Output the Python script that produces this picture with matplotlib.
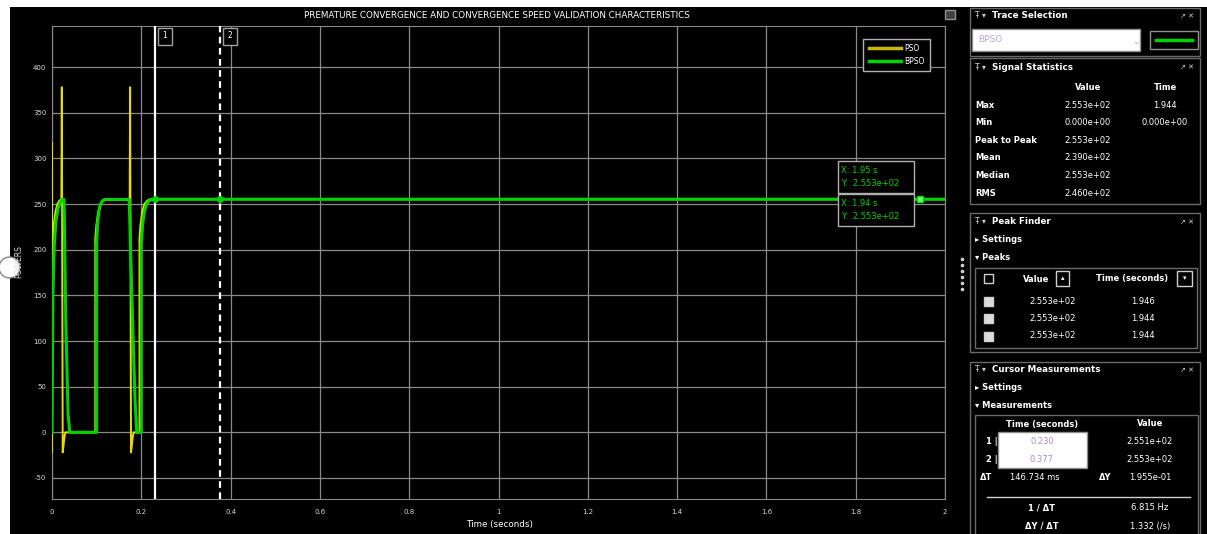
import matplotlib
matplotlib.use("Agg")
import matplotlib.pyplot as plt
from matplotlib.patches import Rectangle
from matplotlib.lines import Line2D

plt.rcParams['axes.unicode_minus'] = False

W, H = 1207, 534

# ----------------------- data -----------------------
pso_t = [0.0, 0.0, 0.0, 0.002, 0.004, 0.008, 0.012, 0.017, 0.021, 0.022, 0.024,
         0.028, 0.03, 0.097, 0.097, 0.099, 0.103, 0.108, 0.115, 0.174, 0.175,
         0.177, 0.181, 0.183, 0.196, 0.196, 0.198, 0.202, 0.207, 0.214, 0.22, 2.0]
pso_v = [-22, 317, 200, 212, 228, 242, 250, 254, 255, 378, -22,
         -5, 0, 0, 212, 225, 240, 250, 255, 255, 378,
         -22, -5, 0, 0, 212, 226, 241, 250, 254, 255.3, 255.3]

bpso_t = [0.0, 0.002, 0.005, 0.009, 0.014, 0.019, 0.023, 0.027, 0.031, 0.036, 0.04,
          0.1, 0.1, 0.102, 0.105, 0.109, 0.114, 0.12, 0.173, 0.18, 0.186, 0.19,
          0.2, 0.2, 0.203, 0.207, 0.212, 0.218, 0.226, 0.23, 2.0]
bpso_v = [0, 150, 205, 232, 246, 252, 255, 255, 120, 20, 0,
          0, 205, 228, 242, 250, 254, 255, 255, 130, 35, 0,
          0, 205, 228, 242, 250, 254, 255.1, 255.3, 255.3]

x_ticks = [0, 0.2, 0.4, 0.6, 0.8, 1.0, 1.2, 1.4, 1.6, 1.8, 2.0]
x_tick_labels = ['0', '0.2', '0.4', '0.6', '0.8', '1', '1.2', '1.4', '1.6', '1.8', '2']
y_ticks = [-50, 0, 50, 100, 150, 200, 250, 300, 350, 400]

cursor_times = [0.230, 0.377]
cursor_values = [255.1, 255.3]
tip_labels = ['X: 1.95 s\nY:  2.553e+02', 'X: 1.94 s\nY:  2.553e+02']
tip_time = 1.945
tip_value = 255.3

stat_names = ['Max', 'Min', 'Peak to Peak', 'Mean', 'Median', 'RMS']
stat_values = ['2.553e+02', '0.000e+00', '2.553e+02', '2.390e+02', '2.553e+02', '2.460e+02']
stat_times = ['1.944', '0.000e+00', '', '', '', '']
peak_values = ['2.553e+02', '2.553e+02', '2.553e+02']
peak_times = ['1.946', '1.944', '1.944']
cur_times = ['0.230', '0.377']
cur_values = ['2.551e+02', '2.553e+02']

YELLOW = '#e6dc00'
GREEN = '#00d400'
GRID = '#8a8a8a'
BORDER = '#6a6a6a'


def fx(x):
    return x / W


def fy(y):
    return 1 - y / H


def box(x0, y0, x1, y1, ec=BORDER, fc='none', lw=1.0):
    fig.add_artist(Rectangle((fx(x0), fy(y1)), (x1 - x0) / W, (y1 - y0) / H,
                             transform=fig.transFigure, ec=ec, fc=fc, lw=lw))


def txt(x, y, s, **kw):
    kw.setdefault('color', 'white')
    kw.setdefault('fontsize', 6)
    kw.setdefault('va', 'center')
    fig.text(fx(x), fy(y), s, **kw)


fig = plt.figure(figsize=(W / 100, H / 100), dpi=100)
fig.patch.set_facecolor('black')

# white page margins
box(0, 0, W, 7, ec='none', fc='white')
box(0, 0, 10, H, ec='none', fc='white')

# ----------------------- main axes -----------------------
ax = fig.add_axes([fx(52), fy(499), (945 - 52) / W, (499 - 26) / H])
ax.set_facecolor('black')
ax.plot(pso_t, pso_v, color=YELLOW, lw=1.4, label='PSO', zorder=3)
ax.plot(bpso_t, bpso_v, color=GREEN, lw=2.2, label='BPSO', zorder=4)
ax.set_xlim(0, 2)
ax.set_ylim(-73, 445)
ax.set_xticks(x_ticks)
ax.set_xticklabels(x_tick_labels)
ax.set_yticks(y_ticks)
ax.grid(True, color=GRID, lw=0.9)
ax.tick_params(length=0, labelsize=5, colors='#d8d8d8')
ax.tick_params(axis='x', pad=7)
ax.tick_params(axis='y', pad=4)
for s in ax.spines.values():
    s.set_color(GRID)

# cursors
ax.axvline(cursor_times[0], color='white', lw=1.6, zorder=5)
ax.axvline(cursor_times[1], color='white', lw=1.6, ls=(0, (3, 2)), zorder=5)
ax.plot(cursor_times, cursor_values, 'o', color=GREEN, ms=4, zorder=6)
ax.plot([tip_time], [tip_value], 's', color=GREEN, mfc='#7dff7d', ms=4, zorder=6)

leg = ax.legend(loc='upper right', bbox_to_anchor=(0.987, 0.981), fontsize=5.5,
                facecolor='black', edgecolor='#b0b0b0', labelcolor='white',
                handlelength=4.2, borderpad=0.7, labelspacing=0.45, handletextpad=0.4,
                fancybox=False, framealpha=1)
leg.get_lines()[0].set_linewidth(2.5)
leg.get_lines()[0].set_color('#c8b800')
leg.get_lines()[1].set_linewidth(2.5)

# cursor tags
for i, cx in enumerate([165, 230]):
    box(cx - 7, 28, cx + 7, 45, ec='#a0a0a0', fc='black')
    txt(cx, 36, str(i + 1), ha='center', fontsize=5.5)

# data tips
for i, lab in enumerate(tip_labels):
    y0 = 161 + i * 33
    box(838, y0, 914, y0 + 32, ec='#b0b0b0', fc='black')
    txt(841, y0 + 16, lab, color=GREEN, fontsize=6, linespacing=1.5)

txt(497, 16, 'PREMATURE CONVERGENCE AND CONVERGENCE SPEED VALIDATION CHARACTERISTICS',
    ha='center', fontsize=6.3)
txt(500, 525, 'Time (seconds)', ha='center', fontsize=6.3)
txt(19, 262, 'POWERS', ha='center', rotation=90, fontsize=5.5, color='#d8d8d8')
fig.add_artist(Line2D([fx(9)], [fy(267)], marker='o', ms=15, mfc='white', mec='#888888',
                      transform=fig.transFigure))
box(945, 10, 955, 19, ec='#909090', fc='#404040')
for k in range(6):
    fig.add_artist(Line2D([fx(962)], [fy(259 + 6 * k)], marker='o', ms=1.6, color='#cfcfcf',
                          transform=fig.transFigure))


# ----------------------- right panels -----------------------
def header(y, title):
    txt(975, y, 'Ŧ ▾', fontsize=5.5, color='#cfcfcf')
    txt(992, y, title, fontweight='bold', fontsize=6.3)
    txt(1187, y, '↗ ✕', fontsize=5, color='#cfcfcf', ha='center')


box(970, 8, 1200, 56)
header(16, 'Trace Selection')
box(972, 29, 1140, 51, ec='#909090', fc='white')
txt(978, 40, 'BPSO', color='#b7a6d6', fontsize=6.5)
txt(1132, 41, '⌄', color='#a0a0a0', fontsize=6)
box(1150, 31, 1198, 49, ec='#909090', fc='black')
fig.add_artist(Line2D([fx(1156), fx(1192)], [fy(40), fy(40)], color=GREEN, lw=2.5,
                      transform=fig.transFigure))

box(970, 58, 1200, 204)
header(67, 'Signal Statistics')
txt(1088, 88, 'Value', ha='center', fontweight='bold')
txt(1165, 88, 'Time', ha='center', fontweight='bold')
for i, name in enumerate(stat_names):
    y = 105 + i * 17.6
    txt(975, y, name, fontweight='bold')
    txt(1088, y, stat_values[i], ha='center')
    if stat_times[i]:
        txt(1165, y, stat_times[i], ha='center')

box(970, 213, 1200, 352)
header(222, 'Peak Finder')
txt(975, 240, '▸ Settings', fontweight='bold')
txt(975, 257, '▾ Peaks', fontweight='bold')
box(975, 268, 1197, 348)
box(984, 274, 993, 283, ec='#cfcfcf', fc='black')
txt(1036, 279, 'Value', ha='center', fontweight='bold')
box(1056, 271, 1069, 286, ec='#cfcfcf', fc='black')
txt(1062.5, 278, '▴', ha='center', fontsize=5)
txt(1132, 279, 'Time (seconds)', ha='center', fontweight='bold')
box(1177, 271, 1192, 286, ec='#cfcfcf', fc='black')
txt(1184.5, 278, '▾', ha='center', fontsize=5)
for i in range(3):
    y = 301 + i * 17.5
    box(984, y - 4.5, 993, y + 4.5, ec='#cfcfcf', fc='#dcdcdc')
    txt(1053, y, peak_values[i], ha='center')
    txt(1143, y, peak_times[i], ha='center')

box(970, 362, 1200, 540)
header(370, 'Cursor Measurements')
txt(975, 388, '▸ Settings', fontweight='bold')
txt(975, 406, '▾ Measurements', fontweight='bold')
box(975, 415, 1198, 540)
txt(1042, 424, 'Time (seconds)', ha='center', fontweight='bold')
txt(1150, 424, 'Value', ha='center', fontweight='bold')
box(998, 432, 1087, 468, ec='#909090', fc='white')
for i in range(2):
    y = 442 + i * 17
    txt(986, y, f'{i + 1} |', fontweight='bold')
    txt(1042, y, cur_times[i], ha='center', color='#a58ad0')
    txt(1150, y, cur_values[i], ha='center')
txt(980, 477, 'ΔT', fontweight='bold')
txt(1035, 477, '146.734 ms', ha='center')
txt(1105, 477, 'ΔY', ha='center', fontweight='bold')
txt(1150, 477, '1.955e-01', ha='center')
fig.add_artist(Line2D([fx(987), fx(1190)], [fy(497), fy(497)], color='#cfcfcf', lw=1,
                      transform=fig.transFigure))
txt(1042, 508, '1 / ΔT', ha='center', fontweight='bold')
txt(1150, 508, '6.815 Hz', ha='center')
txt(1042, 526, 'ΔY / ΔT', ha='center', fontweight='bold')
txt(1150, 526, '1.332 (/s)', ha='center')

fig.savefig('out.png', dpi=100, facecolor=fig.get_facecolor())
